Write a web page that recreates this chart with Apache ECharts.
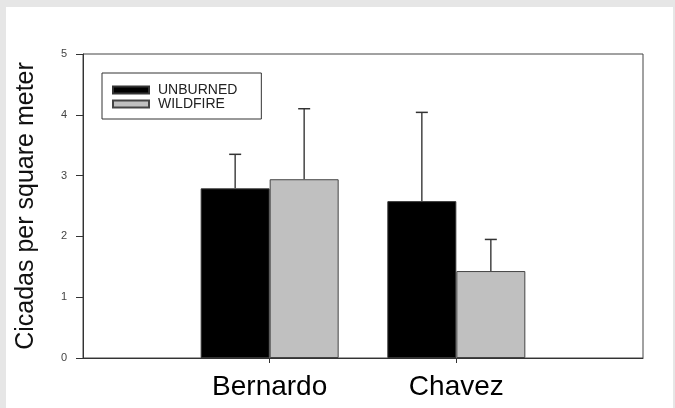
<!DOCTYPE html>
<html><head><meta charset="utf-8">
<script src="https://cdn.jsdelivr.net/npm/echarts@6/dist/echarts.min.js"></script>
<style>html,body{margin:0;padding:0;background:#e6e6e6}#c{width:675px;height:408px}</style>
</head><body><div id="c"></div>
<script>
const categories = ['Bernardo', 'Chavez'];
const seriesNames = ['UNBURNED', 'WILDFIRE'];
const unburned = [2.79, 2.58];
const wildfire = [2.94, 1.43];
const unburnedErr = [0.56, 1.46];
const wildfireErr = [1.16, 0.52];
const yTicks = [0, 1, 2, 3, 4, 5];

const FONT = 'Liberation Sans, Arial, sans-serif';
const axisCats = [''].concat(categories, ['']);
const pad = a => [null].concat(a, [null]);
const BAR_W = 69;
function errData(vals, errs) { return vals.map((v, i) => [i + 1, v, v + errs[i]]); }
function errRender(offset) {
  return function (params, api) {
    const b = api.coord([api.value(0), api.value(1)]);
    const t = api.coord([api.value(0), api.value(2)]);
    const cx = b[0] + offset;
    return {
      type: 'group', children: [
        { type: 'line', shape: { x1: cx, y1: b[1], x2: cx, y2: t[1] }, style: { stroke: '#444', lineWidth: 1.5 } },
        { type: 'line', shape: { x1: cx - 6, y1: t[1], x2: cx + 6, y2: t[1] }, style: { stroke: '#333', lineWidth: 1.5 } }
      ]
    };
  };
}
const chart = echarts.init(document.getElementById('c'));
chart.setOption({
  backgroundColor: '#e6e6e6',
  animation: false,
  graphic: [{ type: 'rect', z: -10, silent: true, shape: { x: 6, y: 7, width: 667, height: 401 }, style: { fill: '#ffffff' } }],
  legend: {
    orient: 'vertical', left: 102, top: 73, data: seriesNames, icon: 'rect',
    itemWidth: 36, itemHeight: 7, itemGap: 0, padding: [10, 24, 8, 10],
    borderColor: '#333', borderWidth: 1, backgroundColor: '#fff', selectedMode: false,
    textStyle: { fontFamily: FONT, fontSize: 14, color: '#222', lineHeight: 13, padding: [0, 0, 0, 4] }
  },
  grid: { left: 83, right: 32, top: 54, bottom: 50, show: true, borderColor: '#444', borderWidth: 1, outerBoundsMode: 'none', containLabel: false },
  xAxis: {
    type: 'category', data: axisCats, boundaryGap: false,
    axisLine: { show: true, lineStyle: { color: '#333', width: 1 } },
    axisTick: { show: true, length: 5, interval: (i) => i === 1 || i === 2, lineStyle: { color: '#333' } },
    axisLabel: { interval: 0, fontSize: 28, color: '#000', margin: 15, fontFamily: FONT },
    splitLine: { show: false }
  },
  yAxis: {
    type: 'value', min: yTicks[0], max: yTicks[yTicks.length - 1], interval: 1,
    axisLine: { show: true, lineStyle: { color: '#333', width: 1 } },
    axisTick: { show: true, inside: false, length: 7, lineStyle: { color: '#333' } },
    axisLabel: { fontSize: 11, color: '#444', margin: 16, fontFamily: FONT },
    splitLine: { show: false },
    name: 'Cicadas per square meter', nameLocation: 'middle', nameGap: 44,
    nameTextStyle: { fontSize: 25, color: '#111', fontFamily: FONT }
  },
  series: [
    { name: seriesNames[0], type: 'bar', data: pad(unburned), barWidth: BAR_W, barGap: '0%',
      itemStyle: { color: '#000', borderColor: '#333', borderWidth: 1 } },
    { name: seriesNames[1], type: 'bar', data: pad(wildfire), barWidth: BAR_W, barGap: '0%',
      itemStyle: { color: '#c0c0c0', borderColor: '#444', borderWidth: 1 } },
    { type: 'custom', data: errData(unburned, unburnedErr), renderItem: errRender(-BAR_W / 2), z: 3, silent: true },
    { type: 'custom', data: errData(wildfire, wildfireErr), renderItem: errRender(BAR_W / 2), z: 3, silent: true }
  ]
});
</script></body></html>
